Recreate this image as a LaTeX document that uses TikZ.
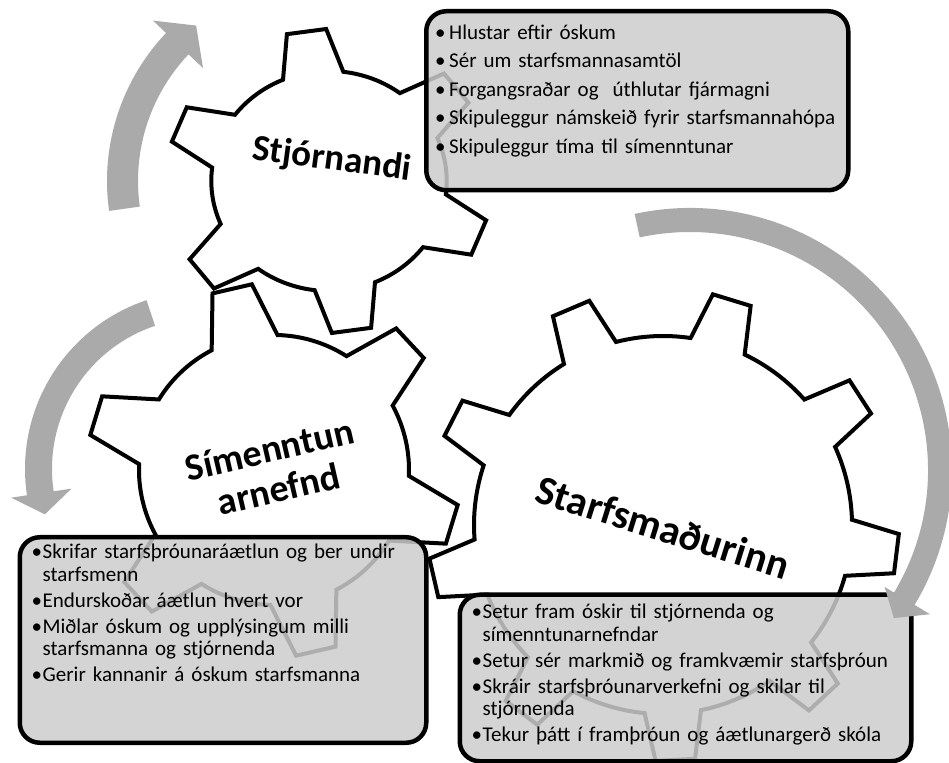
\documentclass[tikz,border=0pt]{standalone}
\usepackage{fontspec}
\setmainfont{Carlito}
\usetikzlibrary{positioning}

\definecolor{arrowgray}{RGB}{170,170,170}
\definecolor{boxgray}{RGB}{204,204,204}

\newlength{\bulletw}
% one bullet line with hanging indent
\newcommand{\bitem}[1]{\hangindent=\bulletw\hangafter=1\noindent\makebox[\bulletw][l]{•}#1\par}

% gear: #1 teeth, #2 root radius, #3 tip radius, #4 root half angle, #5 tip half angle, #6 first tooth
\newcommand{\gearoutline}[6]{%
  \pgfmathsetmacro{\gstep}{360/#1}%
  \draw[gearline] ({#6-#4}:#2)
    \foreach \k in {1,...,#1} {
      -- ({#6+(\k-1)*\gstep-#5}:#3) -- ({#6+(\k-1)*\gstep+#5}:#3)
      -- ({#6+(\k-1)*\gstep+#4}:#2)
      arc[start angle={#6+(\k-1)*\gstep+#4}, end angle={#6+\k*\gstep-#4}, radius=#2]
    } -- cycle;}

\begin{document}
\begin{tikzpicture}[x=1pt, y=1pt,
    gearline/.style={draw=black, line width=4pt, fill=white},
    gearlabel/.style={font=\fontsize{37}{40.6}\selectfont\bfseries, inner sep=0, align=center},
    infobox/.style={draw=black, line width=4.5pt, rounded corners=20pt, fill=boxgray, fill opacity=0.85, inner sep=0, anchor=north west},
    infotext/.style={anchor=base west, inner sep=0, text width=470pt, align=left, font=\fontsize{21}{22.3}\selectfont},
    arrowband/.style={fill=arrowgray}]
  \useasboundingbox (0,0) rectangle (949,762);

  % Gears
  \begin{scope}[shift={(663,237)}]
    \gearoutline{9}{189}{236}{8.6}{4.8}{-7}
  \end{scope}
  \begin{scope}[shift={(274,292)}]
    \gearoutline{6}{135}{187}{14.5}{6.2}{103}
  \end{scope}
  \begin{scope}[shift={(329,581)}, xscale=1.07]
    \gearoutline{6}{110}{152}{15}{7}{98}
  \end{scope}

  \node[gearlabel, rotate=-7.5] (stjornandi) at (332,602) {Stjórnandi};
  \node[gearlabel, font=\fontsize{38}{40.6}\selectfont\bfseries, rotate=13] (simenntun) at (274,293) {Símenntun\\arnefnd};
  \node[gearlabel, font=\fontsize{41}{45}\selectfont\bfseries, rotate=-17.4] (starfsmadur) at (663,235) {Starfsmaðurinn};

  % Boxes
  \node[infobox, minimum width=422, minimum height=179] (boxStj) at (424,753) {};
  \node[infobox, minimum width=406.5, minimum height=205.5] (boxSim) at (17.5,227) {};
  \node[infobox, minimum width=451.5, minimum height=166.5] (boxSta) at (457.5,169.5) {};

  \node[infotext] (txtStj) at (435,722.4) {\setlength{\bulletw}{14pt}\setlength{\parskip}{6.1pt}%
    \bitem{Hlustar eftir óskum}
    \bitem{Sér um starfsmannasamtöl}
    \bitem{Forgangsraðar og~ úthlutar fjármagni}
    \bitem{Skipuleggur námskeið fyrir starfsmannahópa}
    \bitem{Skipuleggur tíma til símenntunar}};
  \node[infotext] (txtSim) at (31.5,203) {\setlength{\bulletw}{11pt}\setlength{\parskip}{3.8pt}%
    \bitem{Skrifar starfsþróunaráætlun og ber undir\newline starfsmenn}
    \bitem{Endurskoðar áætlun hvert vor}
    \bitem{Miðlar óskum og upplýsingum milli\newline starfsmanna og stjórnenda}
    \bitem{Gerir kannanir á óskum starfsmanna}};
  \node[infotext] (txtSta) at (471.5,143) {\setlength{\bulletw}{11pt}\setlength{\parskip}{3.8pt}%
    \bitem{Setur fram óskir til stjórnenda og\newline símenntunarnefndar}
    \bitem{Setur sér markmið og framkvæmir starfsþróun}
    \bitem{Skráir starfsþróunarverkefni og skilar til\newline stjórnenda}
    \bitem{Tekur þátt í framþróun og áætlunargerð skóla}};

  % Arrows
  \begin{scope}[shift={(322,581)}]
    \fill[arrowband] (188:215) arc[start angle=188, end angle=136.5, radius=215]
      -- (136.5:233) -- (129:200) -- (136.5:164) -- (136.5:184)
      arc[start angle=136.5, end angle=188, radius=184] -- cycle;
  \end{scope}
  \begin{scope}[shift={(203,293)}]
    \fill[arrowband] (108.5:178) arc[start angle=108.5, end angle=188.5, radius=178]
      -- (188.5:194) -- (196:164.5) -- (188.5:133) -- (188.5:151)
      arc[start angle=188.5, end angle=108.5, radius=151] -- cycle;
  \end{scope}
  \begin{scope}[shift={(690,292)}]
    \fill[arrowband] (102.2:262) arc[start angle=102.2, end angle=-31, radius=262]
      -- (-31:280) -- (-36:252) -- (-31:227) -- (-31:238)
      arc[start angle=-31, end angle=102.2, radius=238] -- cycle;
  \end{scope}
\end{tikzpicture}
\end{document}
